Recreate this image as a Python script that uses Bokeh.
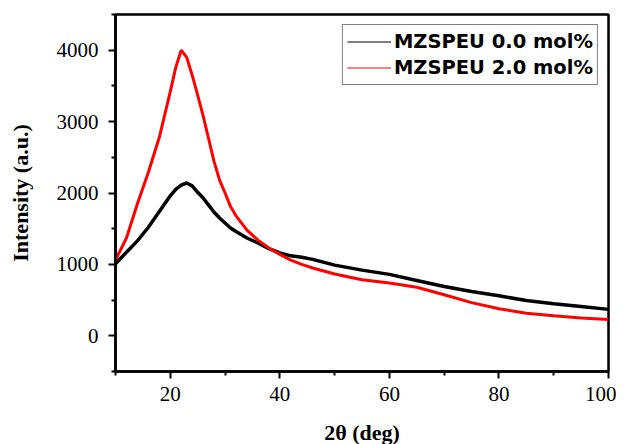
from bokeh.plotting import figure
from bokeh.models import FixedTicker, Range1d, Legend, LegendItem
from bokeh.embed import file_html
from bokeh.resources import INLINE

# 2θ (deg) sample positions
two_theta = [10, 12, 14, 16, 18, 20, 21, 22, 23, 24, 25, 26, 27, 28, 29, 30, 31, 32, 34, 36,
             38, 40, 42, 44, 46, 50, 55, 60, 65, 70, 75, 80, 85, 90, 95, 100]
# MZSPEU 0.0 mol%
intensity_0 = [1010, 1170, 1330, 1520, 1740, 1960, 2050, 2110, 2140, 2100, 2010, 1930, 1830,
               1730, 1650, 1580, 1510, 1460, 1370, 1300, 1220, 1160, 1120, 1100, 1070, 990,
               920, 860, 775, 690, 620, 560, 495, 450, 410, 370]
# MZSPEU 2.0 mol%
intensity_2 = [1060, 1370, 1850, 2290, 2780, 3420, 3760, 4000, 3900, 3650, 3370, 3080, 2760,
               2440, 2180, 2000, 1810, 1680, 1480, 1340, 1230, 1140, 1060, 1000, 950, 865,
               785, 740, 680, 575, 465, 380, 315, 280, 250, 230]

series_names = ["MZSPEU 0.0 mol%", "MZSPEU 2.0 mol%"]
x_major = [20, 40, 60, 80, 100]
x_minor = [10, 30, 50, 70, 90]
y_major = [0, 1000, 2000, 3000, 4000]
y_minor = [-500, 500, 1500, 2500, 3500, 4500]

p = figure(frame_width=493, frame_height=357, output_backend="svg", toolbar_location=None,
           x_range=Range1d(10, 100), y_range=Range1d(-500, 4500),
           min_border_left=115, min_border_right=8, min_border_top=14, min_border_bottom=64)

p.grid.visible = False
p.background_fill_color = "white"
p.border_fill_color = "white"
p.outline_line_color = "black"
p.outline_line_width = 2.5

p.line(two_theta, intensity_0, line_color="black", line_width=3.5)
p.line(two_theta, intensity_2, line_color="red", line_width=3)

# thin legend glyphs (no visible data)
nan = float("nan")
l0 = p.line(x=[nan], y=[nan], line_color="black", line_width=1)
l2 = p.line(x=[nan], y=[nan], line_color="red", line_width=1)

legend = Legend(items=[LegendItem(label=series_names[0], renderers=[l0]),
                       LegendItem(label=series_names[1], renderers=[l2])],
                location="top_right", margin=10, padding=4, spacing=1,
                glyph_width=44, glyph_height=25, label_height=25, label_standoff=3,
                label_text_font="DejaVu Sans", label_text_font_style="bold",
                label_text_font_size="19.5px", label_text_color="black",
                border_line_color="black", border_line_width=1,
                background_fill_alpha=1.0)
p.add_layout(legend)

for ax in (p.xaxis[0], p.yaxis[0]):
    ax.axis_line_width = 2.5
    ax.axis_line_color = "black"
    ax.major_tick_line_width = 2
    ax.minor_tick_line_width = 2
    ax.major_tick_out = 7
    ax.major_tick_in = 0
    ax.minor_tick_out = 4
    ax.minor_tick_in = 0
    ax.major_label_text_font = "Liberation Serif"
    ax.major_label_text_font_size = "21px"
    ax.major_label_text_color = "black"
    ax.axis_label_text_font = "Liberation Serif"
    ax.axis_label_text_font_style = "bold"
    ax.axis_label_text_font_size = "22px"
    ax.axis_label_text_color = "black"

p.xaxis[0].ticker = FixedTicker(ticks=x_major, minor_ticks=x_minor)
p.yaxis[0].ticker = FixedTicker(ticks=y_major, minor_ticks=y_minor)
p.xaxis[0].axis_label = "2θ (deg)"
p.yaxis[0].axis_label = "Intensity (a.u.)"
p.xaxis[0].major_label_standoff = 8
p.yaxis[0].major_label_standoff = 10
p.xaxis[0].axis_label_standoff = 16
p.yaxis[0].axis_label_standoff = 21

open("out.html", "w").write(file_html(p, INLINE))
